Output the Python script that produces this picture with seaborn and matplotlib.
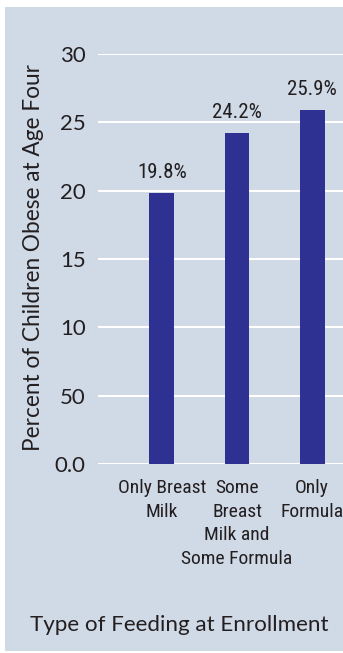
import matplotlib
matplotlib.use("Agg")
import matplotlib.pyplot as plt
import seaborn as sns
import pandas as pd
from matplotlib.patches import Rectangle

categories = ["Only Breast\nMilk", "Some\nBreast\nMilk and\nSome Formula", "Only\nFormula"]
values = [19.8, 24.2, 25.9]
value_labels = ["19.8%", "24.2%", "25.9%"]
y_ticks = [0, 5, 10, 15, 20, 25, 30]
y_tick_labels = ["0.0", "50", "10", "15", "20", "25", "30"]

PANEL = "#d0d9e6"
BAR = "#2e3192"
TEXT = "#231f20"

sns.set_style("white")
main_font = ["Lato", "DejaVu Sans"]
plt.rcParams["font.family"] = main_font

fig = plt.figure(figsize=(3.43, 6.53), dpi=100)
fig.patch.set_facecolor("white")
fig.patches.append(Rectangle((5/343, 2/653), 1, 644/653, transform=fig.transFigure,
                             facecolor=PANEL, edgecolor="none", zorder=-5))

ax = fig.add_axes([98/343, 189/653, 1 - 98/343, 410/653])
ax.set_zorder(2)
ax.set_facecolor(PANEL)

df = pd.DataFrame({"cat": categories, "val": values})
sns.barplot(data=df, x="cat", y="val", color=BAR, saturation=1, width=0.33,
            linewidth=0, ax=ax, zorder=3)

ax.set_xlim(-0.85, 2.41)
ax.set_ylim(0, 30)
ax.set_yticks(y_ticks)
ax.set_yticklabels(y_tick_labels, fontsize=16, color=TEXT)
ax.yaxis.grid(True, color="white", linewidth=1.5, zorder=0)
ax.set_axisbelow(True)
ax.tick_params(axis="y", length=0, pad=9)
ax.tick_params(axis="x", length=0, pad=11)
for s in ax.spines.values():
    s.set_visible(False)

condensed = ["Roboto Condensed", "Archivo Narrow", "DejaVu Sans"]
ax.set_xticks(range(len(categories)))
ax.set_xticklabels(categories, fontsize=14, color=TEXT, family=condensed,
                   linespacing=1.4, va="top")
for i, (v, lab) in enumerate(zip(values, value_labels)):
    ax.text(i, v + 0.8, lab, ha="center", va="bottom", fontsize=15,
            color=TEXT, family=condensed)

ax.set_xlabel("")
ax.set_ylabel("")
fig.text(34/343, 1 - 257/653, "Percent of Children Obese at Age Four", rotation=90,
         ha="center", va="center", fontsize=16.3, color=TEXT)
fig.text(179/343, 1 - 625/653, "Type of Feeding at Enrollment", ha="center",
         va="center", fontsize=16.1, color=TEXT)

fig.savefig("out.png", dpi=100, facecolor=fig.get_facecolor())
